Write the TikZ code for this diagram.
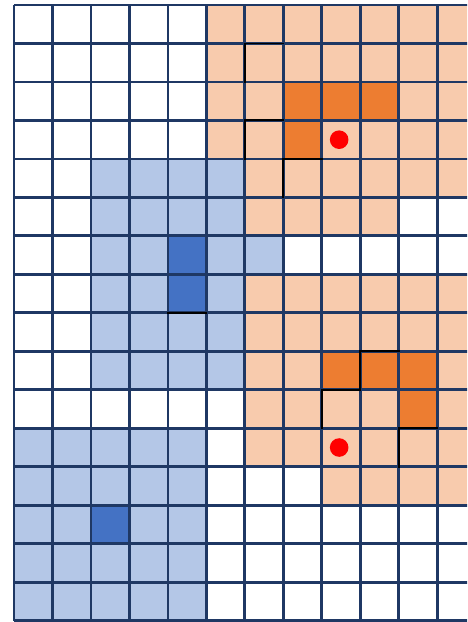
\documentclass[tikz,border=0pt]{standalone}
\usepackage{tikz}
\definecolor{peach}{HTML}{F8CBAD}
\definecolor{orng}{HTML}{ED7D31}
\definecolor{lblue}{HTML}{B4C7E7}
\definecolor{dblue}{HTML}{4472C4}
\definecolor{gridnavy}{HTML}{1F3864}
\tikzset{
  gridline/.style={draw=gridnavy, line width=2.8pt},
  markline/.style={draw=black, line width=1.9pt, line cap=rect},
  reddot/.style={fill=red}
}
\begin{document}
\begin{tikzpicture}
\useasboundingbox (0,0) rectangle (467pt,-622pt);
\fill[white] (0,0) rectangle (467pt,-622pt);
\clip (0,0) rectangle (467pt,-622pt);
\begin{scope}[shift={(14pt,-5pt)}, x=38.48pt, y=-38.48pt]
  % peach regions
  \fill[peach] (5,0) rectangle (12,4);
  \fill[peach] (6,4) rectangle (12,5);
  \fill[peach] (6,5) rectangle (10,6);
  \fill[peach] (6,7) rectangle (12,12);
  \fill[peach] (8,12) rectangle (12,13);
  % orange cells
  \fill[orng] (7,2) rectangle (10,3);
  \fill[orng] (7,3) rectangle (8,4);
  \fill[orng] (8,9) rectangle (11,10);
  \fill[orng] (10,10) rectangle (11,11);
  % light blue regions
  \fill[lblue] (2,4) rectangle (6,6);
  \fill[lblue] (2,6) rectangle (7,7);
  \fill[lblue] (2,7) rectangle (6,10);
  \fill[lblue] (0,11) rectangle (5,16);
  % dark blue cells
  \fill[dblue] (4,6) rectangle (5,8);
  \fill[dblue] (2,13) rectangle (3,14);
  % grid
  \foreach \c in {0,...,12} \draw[gridline] (\c,0) -- (\c,16);
  \foreach \r in {0,...,16} \draw[gridline] (0,\r) -- (12,\r);
  % black marks (top and left edges)
  \foreach \c/\r in {6/1, 6/3, 7/4, 9/9, 8/10, 10/11}
    \draw[markline] (\c,\r+1) -- (\c,\r) -- (\c+1,\r);
  \draw[markline] (4,8) -- (5,8);
  % red dots
  \fill[reddot] (8.45,3.5) circle[radius=9.3pt];
  \fill[reddot] (8.45,11.5) circle[radius=9.3pt];
\end{scope}
\end{tikzpicture}
\end{document}
